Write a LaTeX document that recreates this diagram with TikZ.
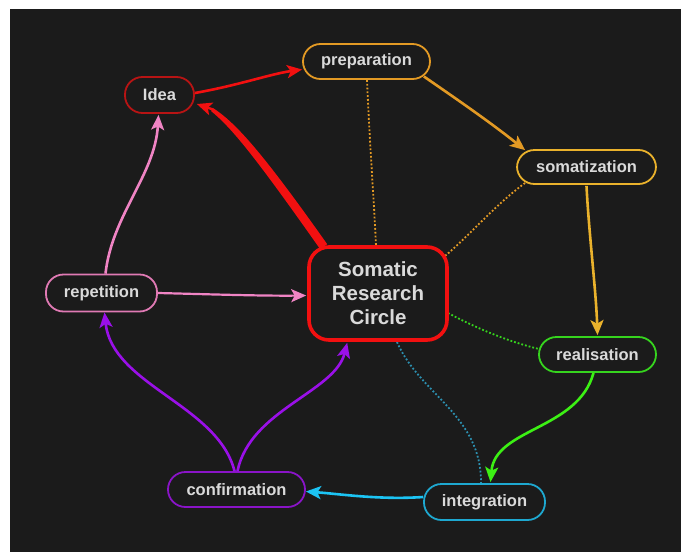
\documentclass[tikz,border=0pt]{standalone}
\usepackage{fontspec}
\setmainfont{Liberation Sans}
\usetikzlibrary{arrows.meta,calc}
\definecolor{bgc}{HTML}{1B1B1B}
\definecolor{txt}{HTML}{DADADA}
\definecolor{ideac}{HTML}{B81414}
\definecolor{redc}{HTML}{F21010}
\definecolor{prepc}{HTML}{E39A24}
\definecolor{somac}{HTML}{EAB22C}
\definecolor{realc}{HTML}{36D41E}
\definecolor{greenc}{HTML}{3CF014}
\definecolor{integc}{HTML}{1EA8D0}
\definecolor{cyanc}{HTML}{1CC4F4}
\definecolor{confc}{HTML}{8A14C8}
\definecolor{purpc}{HTML}{9A10E8}
\definecolor{repc}{HTML}{E07AB4}
\definecolor{pinkc}{HTML}{F084C4}
\definecolor{dotc}{HTML}{2C90B0}
\tikzset{
  nd/.style={rectangle, rounded corners=17.5pt, line width=1.8pt, fill=bgc,
    text=txt, font=\fontsize{16.5}{19}\selectfont\bfseries, inner sep=0pt},
  ctr/.style={rectangle, rounded corners=20pt, line width=3.6pt, draw=redc, fill=bgc,
    text=txt, font=\fontsize{20.5}{24}\selectfont\bfseries, align=center, inner sep=0pt},
  con/.style={line width=2.6pt, -{Stealth[length=15pt,width=13pt,inset=3.5pt]}},
  dot/.style={line width=1.8pt, dotted},
}
\begin{document}
\begin{tikzpicture}[x=1pt,y=-1pt]
\useasboundingbox (0,0) rectangle (681,552);
\fill[white] (0,0) rectangle (681,552);
\fill[bgc] (10,9) rectangle (681,552);

% dotted links (behind nodes)
\coordinate (d1a) at (367,80);
\coordinate (d1b) at (376,246);
\draw[dot, prepc] (d1a) .. controls (370,150) and (374,200) .. (d1b);
\coordinate (d2a) at (525,183);
\coordinate (d2b) at (445,256);
\draw[dot, prepc] (d2a) .. controls (495,205) and (470,235) .. (d2b);
\coordinate (d3a) at (448,313);
\coordinate (d3b) at (539,349);
\draw[dot, realc] (d3a) .. controls (480,330) and (510,342) .. (d3b);
\coordinate (d4a) at (397,342);
\coordinate (d4b) at (481,484);
\draw[dot, dotc] (d4a) .. controls (420,395) and (482,415) .. (d4b);

% nodes
\node[nd, draw=ideac, minimum width=69pt, minimum height=36pt] (idea) at (159.5,95) {Idea};
\node[nd, draw=prepc, minimum width=127pt, minimum height=35pt] (prep) at (366.5,61.5) {preparation};
\node[nd, draw=somac, minimum width=139pt, minimum height=34pt] (soma) at (586.5,167) {somatization};
\node[ctr, minimum width=138pt, minimum height=93pt] (circ) at (378,293.5) {Somatic\\Research\\Circle};
\node[nd, draw=repc, minimum width=111pt, minimum height=37pt] (rep) at (101.5,293) {repetition};
\node[nd, draw=realc, minimum width=117pt, minimum height=35pt] (real) at (597.5,354.5) {realisation};
\node[nd, draw=confc, minimum width=137pt, minimum height=35pt] (conf) at (236.5,489.5) {confirmation};
\node[nd, draw=integc, minimum width=121pt, minimum height=36pt] (integ) at (484.5,502) {integration};

% tapered red link circle -> idea
\fill[redc] ($(circ.north west)+(20,-1)$) .. controls (262,152) and (236,123) .. (213,108)
  -- (211,111) .. controls (232,128) and (256,158) .. ($(circ.north west)+(13,4)$) -- cycle;
\draw[con, redc, line width=2.4pt] (213,109.5) -- ($(idea.east)+(2,9)$);

% connectors
\draw[con, redc] ($(idea.east)+(0,-2)$) .. controls (240,85) and (270,74) .. ($(prep.west)+(0,8)$);
\draw[con, prepc] ($(prep.east)+(-7,15)$) .. controls (455,98) and (490,122) .. ($(soma.north west)+(9,1)$);
\draw[con, somac] ($(soma.south)+(0,1)$) .. controls (589,235) and (596,290) .. ($(real.north)+(0,-1)$);
\draw[con, greenc] ($(real.south)+(-4,0)$) .. controls (578,430) and (495,428) .. ($(integ.north)+(6,-1)$);
\draw[con, cyanc] ($(integ.west)+(0,-5)$) .. controls (380,500) and (340,494) .. ($(conf.east)+(0,2)$);
\draw[con, purpc] ($(conf.north)+(-2,0)$) .. controls (218,405) and (112,385) .. ($(rep.south)+(3,0)$);
\draw[con, purpc] ($(conf.north)+(1,0)$) .. controls (250,410) and (335,392) .. ($(circ.south west)+(40,1)$);
\draw[con, pinkc] ($(rep.north)+(4,0)$) .. controls (112,215) and (155,175) .. ($(idea.south)+(-1,1)$);
\draw[con, pinkc, line width=2.2pt] (rep.east) .. controls (200,294) and (260,296) .. ($(circ.west)+(-1,2)$);
\end{tikzpicture}
\end{document}
